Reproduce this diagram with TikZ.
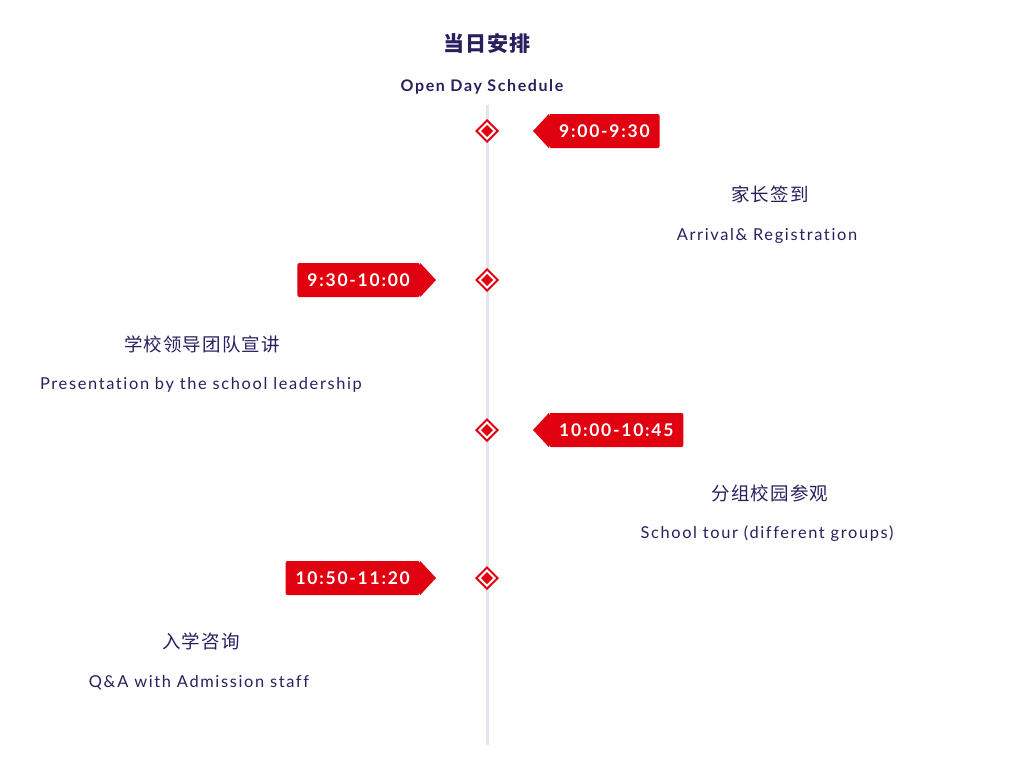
\documentclass[tikz,border=0pt]{standalone}
\usepackage{fontspec}
\setmainfont{Lato}[LetterSpace=10,Ligatures=NoCommon]
\newfontfamily\cjk{Noto Sans CJK SC}[LetterSpace=6]
\usetikzlibrary{positioning}
\definecolor{navy}{HTML}{2A1F5E}
\definecolor{tagred}{HTML}{E00010}
\definecolor{axis}{HTML}{E4E4EE}
\begin{document}
\begin{tikzpicture}[x=1pt,y=-1pt]
    \tikzstyle{tag} = [fill=tagred,text=white,rounded corners=2pt,minimum height=34pt,
                       inner xsep=10pt,font=\bfseries\fontsize{17.5}{17.5}\selectfont]
    \tikzstyle{zh} = [text=navy,font=\cjk\fontsize{18.5}{18.5}\selectfont]
    \tikzstyle{en} = [text=navy,font=\fontsize{16.4}{16.4}\selectfont]
    \useasboundingbox (0,0) rectangle (1032,774);
    %%
    \node [text=navy,font=\cjk\bfseries\fontsize{21}{21}\selectfont] (title) at (487,44) {当日安排};
    \node [text=navy,font=\bfseries\fontsize{16}{16}\selectfont] (sub) at (482,87) {Open Day Schedule};
    \draw [axis,line width=3pt] (487,105) -- (487,745);
    %%
    \foreach \y [count=\i] in {131,280,430,578} {
      \fill [tagred,shift={(487,\y)}] (0,-12) -- (12,0) -- (0,12) -- (-12,0) -- cycle;
      \fill [white,shift={(487,\y)}] (0,-9) -- (9,0) -- (0,9) -- (-9,0) -- cycle;
      \fill [tagred,shift={(487,\y)}] (0,-6) -- (6,0) -- (0,6) -- (-6,0) -- cycle;
      \coordinate (m\i) at (487,\y);
    }
    %%
    \node [tag,anchor=west] (t1) at (549,131) {9:00-9:30};
    \fill [tagred] (t1.north west) -- (533,131) -- (t1.south west) -- cycle;
    \node [tag,anchor=east] (t2) at (420,280) {9:30-10:00};
    \fill [tagred] (t2.north east) -- (436,280) -- (t2.south east) -- cycle;
    \node [tag,anchor=west] (t3) at (549,430) {10:00-10:45};
    \fill [tagred] (t3.north west) -- (533,430) -- (t3.south west) -- cycle;
    \node [tag,anchor=east] (t4) at (420,578) {10:50-11:20};
    \fill [tagred] (t4.north east) -- (436,578) -- (t4.south east) -- cycle;
    %%
    \node [zh] (z1) at (770,194) {家长签到};
    \node [en] (e1) at (767,236) {Arrival\& Registration};
    \node [zh] (z2) at (202,344) {学校领导团队宣讲};
    \node [en] (e2) at (201,385) {Presentation by the school leadership};
    \node [zh] (z3) at (770,493) {分组校园参观};
    \node [en] (e3) at (767,534) {School tour (different groups)};
    \node [zh] (z4) at (201,641) {入学咨询};
    \node [en] (e4) at (199,683) {Q\&A with Admission staff};
\end{tikzpicture}
\end{document}
